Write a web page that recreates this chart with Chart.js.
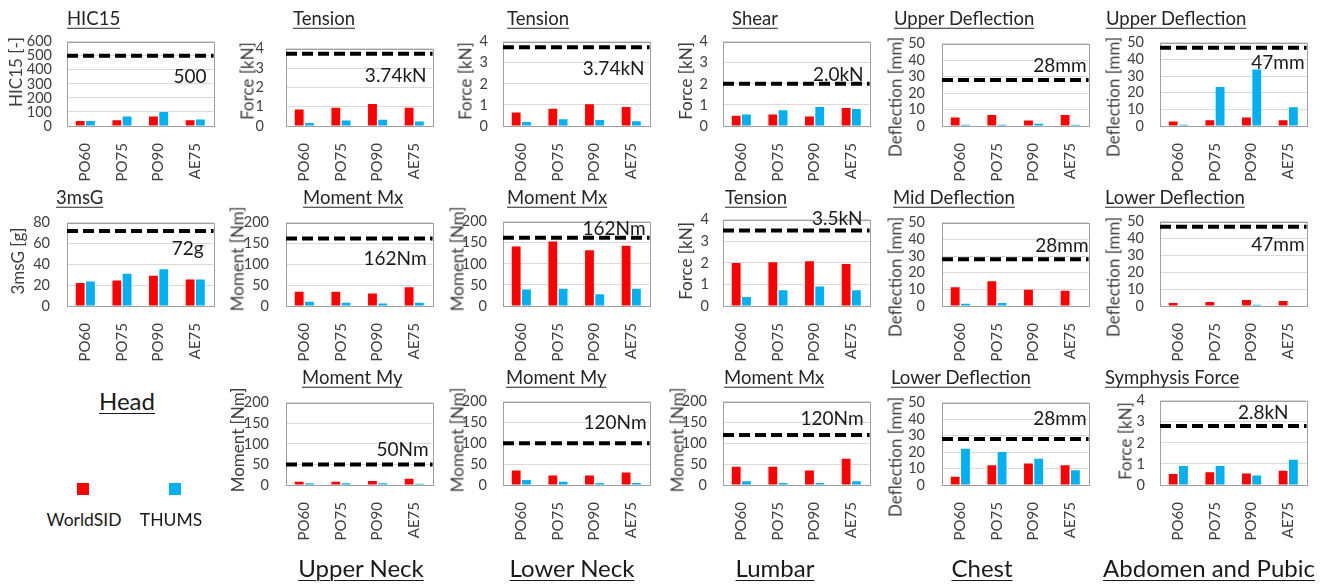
<!DOCTYPE html>
<html><head><meta charset="utf-8">
<script src="https://cdn.jsdelivr.net/npm/chart.js@4"></script>
<style>
body{margin:0;background:#fff;width:1326px;height:584px;position:relative;overflow:hidden;font-family:Lato,sans-serif;}
canvas{position:absolute;}
.t{position:absolute;white-space:nowrap;text-decoration:underline;text-decoration-thickness:1px;text-underline-offset:3px;color:#262626;font-size:18.5px;line-height:1;transform:translateY(-50%);}
.yt{position:absolute;white-space:nowrap;color:#404040;font-size:17px;line-height:1;transform:translate(-50%,-50%) rotate(-90deg);}
.sec{position:absolute;white-space:nowrap;text-decoration:underline;text-decoration-thickness:1px;text-underline-offset:3px;color:#1a1a1a;font-size:24px;line-height:1;transform:translate(-50%,-50%);}
.lg{position:absolute;white-space:nowrap;color:#1a1a1a;font-size:17.5px;line-height:1;transform:translate(-50%,-50%);}
.sw{position:absolute;width:12px;height:12px;}
</style></head>
<body>
<script>
// ---- data ----
const categories = ['PO60','PO75','PO90','AE75'];
const seriesNames = ['WorldSID','THUMS'];

const hic15WorldSID = [35,41,67,41];
const hic15THUMS    = [35,67,99,47];
const ms3WorldSID   = [22,24.5,29,25.5];
const ms3THUMS      = [23.5,31,35.3,25.5];

const uNeckTensionWorldSID = [0.86,0.95,1.14,0.95];
const uNeckTensionTHUMS    = [0.15,0.28,0.32,0.23];
const uNeckMxWorldSID      = [34,34,30,45];
const uNeckMxTHUMS         = [10,8,6,8];
const uNeckMyWorldSID      = [8,8,10,15];
const uNeckMyTHUMS         = [4,4,4,3];

const lNeckTensionWorldSID = [0.64,0.82,1.03,0.90];
const lNeckTensionTHUMS    = [0.19,0.32,0.28,0.23];
const lNeckMxWorldSID      = [141,153,132,143];
const lNeckMxTHUMS         = [39,41,28,41];
const lNeckMyWorldSID      = [35,23,23,30];
const lNeckMyTHUMS         = [12,8,5,5];

const lumbarShearWorldSID   = [0.49,0.54,0.45,0.86];
const lumbarShearTHUMS      = [0.54,0.75,0.90,0.81];
const lumbarTensionWorldSID = [1.99,2.03,2.07,1.95];
const lumbarTensionTHUMS    = [0.42,0.73,0.90,0.73];
const lumbarMxWorldSID      = [44,44,35,63];
const lumbarMxTHUMS         = [9,5,5,9];

const chestUpperWorldSID = [5.1,6.7,3.4,6.7];
const chestUpperTHUMS    = [0.7,0.7,1.3,0.7];
const chestMidWorldSID   = [11.3,14.8,9.7,9.1];
const chestMidTHUMS      = [1.3,1.8,0,0];
const chestLowerWorldSID = [5,12,13,12];
const chestLowerTHUMS    = [22,20,16,9];

const abdUpperWorldSID = [2.7,3.4,5.1,3.4];
const abdUpperTHUMS    = [0.7,23.4,33.9,11.2];
const abdLowerWorldSID = [1.8,2.4,3.5,2.9];
const abdLowerTHUMS    = [0,0,0.7,0];
const symphysisWorldSID = [0.52,0.60,0.55,0.68];
const symphysisTHUMS    = [0.90,0.90,0.45,1.20];

// injury reference limits (value, label)
const limitValues = [500,72,3.74,162,50,3.74,162,100,2.0,3.5,120,28,28,28,47,47,2.8];
const limitLabels = ['500','72g','3.74kN','162Nm','50Nm','3.74kN','162Nm','120Nm','2.0kN','3.5kN','120Nm','28mm','28mm','28mm','47mm','47mm','2.8kN'];

// y axis ranges [max, step]
const rangeHIC = [600,100];
const range3ms = [80,20];
const rangeForce = [4,1];
const rangeMoment = [200,50];
const rangeDefl = [50,10];

const sectionLabels = ['Head','Upper Neck','Lower Neck','Lumbar','Chest','Abdomen and Pubic'];

// ---- layout ----
const colLeft = [67,286,503,723,942,1160];
const rowTop = [34,213,393];
const rowH = [92,93,92];
const plotW = 150;

const panels = [
 {t:'HIC15', y:'HIC15 [-]', ws:hic15WorldSID, th:hic15THUMS, li:0, r:rangeHIC, c:0, w:0, tx:67, yx:15, yy:72, tp:15, lx:-7, ly:21},
 {t:'3msG', y:'3msG [g]', ws:ms3WorldSID, th:ms3THUMS, li:1, r:range3ms, c:0, w:1, tx:56, yx:17, yy:261, tp:17, lx:-10, ly:18},
 {t:'Tension', y:'Force [kN]', ws:uNeckTensionWorldSID, th:uNeckTensionTHUMS, li:2, r:rangeForce, c:1, w:0, tx:293, yx:247, yy:81, tp:22, lx:-6, ly:22},
 {t:'Moment Mx', y:'Moment [Nm]', ws:uNeckMxWorldSID, th:uNeckMxTHUMS, li:3, r:rangeMoment, c:1, w:1, tx:303, yx:237, yy:259, tp:17, lx:-6, ly:20},
 {t:'Moment My', y:'Moment [Nm]', ws:uNeckMyWorldSID, th:uNeckMyTHUMS, li:4, r:rangeMoment, c:1, w:2, tx:302, yx:237, yy:440, tp:17, lx:-4, ly:-15},
 {t:'Tension', y:'Force [kN]', ws:lNeckTensionWorldSID, th:lNeckTensionTHUMS, li:5, r:rangeForce, c:2, w:0, tx:507, yx:465, yy:81, tp:15, lx:-5, ly:22},
 {t:'Moment Mx', y:'Moment [Nm]', ws:lNeckMxWorldSID, th:lNeckMxTHUMS, li:6, r:rangeMoment, c:2, w:1, tx:507, yx:457, yy:259, tp:16, lx:-4, ly:-9},
 {t:'Moment My', y:'Moment [Nm]', ws:lNeckMyWorldSID, th:lNeckMyTHUMS, li:7, r:rangeMoment, c:2, w:2, tx:506, yx:457, yy:440, tp:16, lx:-3, ly:-20},
 {t:'Shear', y:'Force [kN]', ws:lumbarShearWorldSID, th:lumbarShearTHUMS, li:8, r:rangeForce, c:3, w:0, tx:732, yx:685, yy:81, tp:15, lx:-6, ly:-9},
 {t:'Tension', y:'Force [kN]', ws:lumbarTensionWorldSID, th:lumbarTensionTHUMS, li:9, r:rangeForce, c:3, w:1, tx:725, yx:685, yy:261, tp:14, lx:-7, ly:-12},
 {t:'Moment Mx', y:'Moment [Nm]', ws:lumbarMxWorldSID, th:lumbarMxTHUMS, li:10, r:rangeMoment, c:3, w:2, tx:724, yx:677, yy:440, tp:16, lx:-6, ly:-16},
 {t:'Upper Deflection', y:'Deflection [mm]', ws:chestUpperWorldSID, th:chestUpperTHUMS, li:11, r:rangeDefl, c:4, w:0, tx:894, yx:895, yy:97, tp:17, lx:-2, ly:-14},
 {t:'Mid Deflection', y:'Deflection [mm]', ws:chestMidWorldSID, th:chestMidTHUMS, li:12, r:rangeDefl, c:4, w:1, tx:893, yx:895, yy:277, tp:17, lx:0, ly:-13},
 {t:'Lower Deflection', y:'Deflection [mm]', ws:chestLowerWorldSID, th:chestLowerTHUMS, li:13, r:rangeDefl, c:4, w:2, tx:891, yx:895, yy:457, tp:17, lx:-2, ly:-20},
 {t:'Upper Deflection', y:'Deflection [mm]', ws:abdUpperWorldSID, th:abdUpperTHUMS, li:14, r:rangeDefl, c:5, w:0, tx:1106, yx:1113, yy:97, tp:16, lx:-2, ly:15},
 {t:'Lower Deflection', y:'Deflection [mm]', ws:abdLowerWorldSID, th:abdLowerTHUMS, li:15, r:rangeDefl, c:5, w:1, tx:1105, yx:1113, yy:277, tp:16, lx:-2, ly:18},
 {t:'Symphysis Force', y:'Force [kN]', ws:symphysisWorldSID, th:symphysisTHUMS, li:16, r:rangeForce, c:5, w:2, tx:1105, yx:1125, yy:441, tp:15, lx:-18, ly:-13}
];

const RED = '#FF0000', BLUE = '#00B0F0', TXT = '#404040';
Chart.defaults.font.family = 'Lato';
Chart.defaults.color = TXT;

const PADL = 66, PADT = 16, PADR = 6, XH = 62;

const limitPlugin = {
  id:'limitPlugin',
  afterDatasetsDraw(chart){
    const {ctx, chartArea:a, scales} = chart;
    const o = chart.options.plugins.limitPlugin;
    ctx.save();
    ctx.strokeStyle = '#A0A0A0'; ctx.lineWidth = 1;
    ctx.strokeRect(Math.round(a.left)+0.5, Math.round(a.top)+0.5, Math.round(a.width), Math.round(a.height));
    const y = scales.y.getPixelForValue(o.value);
    ctx.strokeStyle = '#000'; ctx.lineWidth = 4; ctx.setLineDash([11,5]);
    ctx.beginPath(); ctx.moveTo(a.left, y); ctx.lineTo(a.right, y); ctx.stroke();
    ctx.setLineDash([]);
    ctx.font = '19px Lato'; ctx.fillStyle = '#1a1a1a';
    ctx.textAlign = 'right'; ctx.textBaseline = 'middle';
    ctx.fillText(o.text, a.right + o.dx, y + o.dy);
    ctx.restore();
  }
};

function addDiv(cls, text, x, y){
  const d = document.createElement('div');
  d.className = cls; d.textContent = text;
  d.style.left = x+'px'; d.style.top = y+'px';
  document.body.appendChild(d);
  return d;
}

panels.forEach(p => {
  const L = colLeft[p.c], T = rowTop[p.w], H = rowH[p.w];
  const cv = document.createElement('canvas');
  cv.width = PADL + plotW + PADR; cv.height = PADT + H + XH;
  cv.style.left = (L - PADL)+'px'; cv.style.top = (T - PADT)+'px';
  document.body.appendChild(cv);
  new Chart(cv, {
    type:'bar',
    data:{
      labels: categories,
      datasets:[
        {label:seriesNames[0], data:p.ws, backgroundColor:RED, categoryPercentage:0.56, barPercentage:0.86},
        {label:seriesNames[1], data:p.th, backgroundColor:BLUE, categoryPercentage:0.56, barPercentage:0.86}
      ]
    },
    options:{
      responsive:false, animation:false, devicePixelRatio:1,
      layout:{padding:{left:0, top:PADT, right:PADR, bottom:0}},
      plugins:{legend:{display:false}, tooltip:{enabled:false},
        limitPlugin:{value:limitValues[p.li], text:limitLabels[p.li], dx:p.lx, dy:p.ly}},
      scales:{
        x:{grid:{display:false}, border:{display:false},
           ticks:{minRotation:90, maxRotation:90, autoSkip:false, padding:9, color:TXT, font:{size:15}},
           afterFit(s){ s.height = XH; }},
        y:{min:0, max:p.r[0], grid:{color:'#D9D9D9', drawTicks:false}, border:{display:false},
           ticks:{stepSize:p.r[1], autoSkip:false, padding:p.tp, color:TXT, font:{size:14.5}},
           afterFit(s){ s.width = PADL; }}
      }
    },
    plugins:[limitPlugin]
  });
  addDiv('t', p.t, p.tx, T - 16);
  addDiv('yt', p.y, p.yx, p.yy);
});

// section labels
const secPos = [[127,401],[361,568],[572,568],[775,568],[982,568],[1209,568]];
sectionLabels.forEach((s,i)=> addDiv('sec', s, secPos[i][0], secPos[i][1]));

// legend
const sw1 = document.createElement('div'); sw1.className='sw'; sw1.style.background=RED; sw1.style.left='77px'; sw1.style.top='483px'; document.body.appendChild(sw1);
const sw2 = document.createElement('div'); sw2.className='sw'; sw2.style.background=BLUE; sw2.style.left='169px'; sw2.style.top='483px'; document.body.appendChild(sw2);
addDiv('lg', seriesNames[0], 84, 520);
addDiv('lg', seriesNames[1], 171, 520);
</script>
</body></html>
